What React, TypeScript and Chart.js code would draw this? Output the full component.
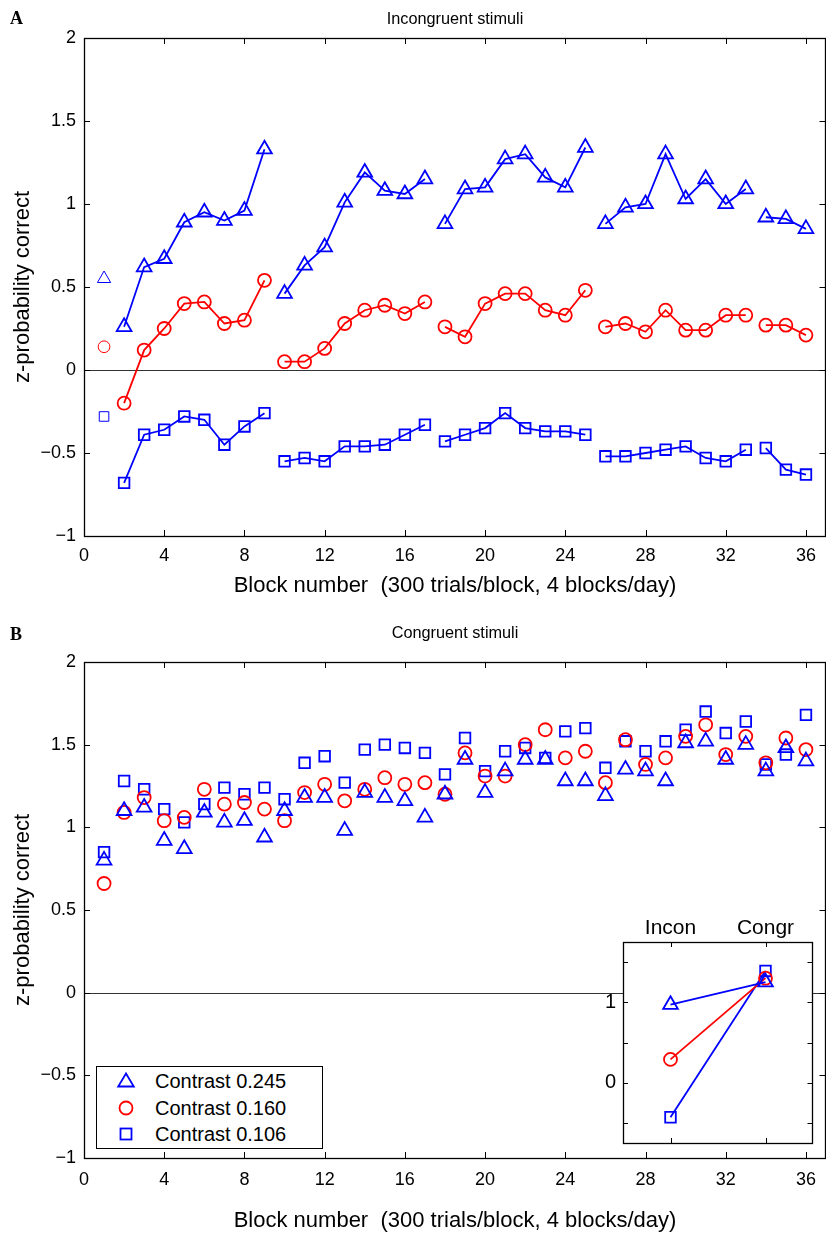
import React, { useEffect, useRef } from 'react';
import { Chart, registerables } from 'chart.js';

Chart.register(...registerables);

const FONT = "'Liberation Sans', Arial, Helvetica, sans-serif";
Chart.defaults.font.family = FONT;
Chart.defaults.color = '#000';

// ---------------- data ----------------
const blocks = [1, 2, 3, 4, 5, 6, 7, 8, 9, 10, 11, 12, 13, 14, 15, 16, 17, 18, 19, 20, 21, 22, 23, 24, 25, 26, 27, 28, 29, 30, 31, 32, 33, 34, 35, 36];
const sessionBreaksAfter = [1, 9, 17, 25, 33];
const xTicks = [0, 4, 8, 12, 16, 20, 24, 28, 32, 36];
const yTicks = [-1, -0.5, 0, 0.5, 1, 1.5, 2];

const seriesNames = ['Contrast 0.245', 'Contrast 0.160', 'Contrast 0.106'];

// Panel A: incongruent stimuli
const incongC245 = [0.55, 0.26, 0.62, 0.67, 0.89, 0.95, 0.90, 0.96, 1.33, 0.46, 0.63, 0.74, 1.01, 1.19, 1.08, 1.06, 1.15, 0.88, 1.09, 1.10, 1.27, 1.30, 1.16, 1.10, 1.34, 0.88, 0.98, 1.00, 1.30, 1.03, 1.15, 1.00, 1.09, 0.92, 0.91, 0.85];
const incongC160 = [0.14, -0.20, 0.12, 0.25, 0.40, 0.41, 0.28, 0.30, 0.54, 0.05, 0.05, 0.13, 0.28, 0.36, 0.39, 0.34, 0.41, 0.26, 0.20, 0.40, 0.46, 0.46, 0.36, 0.33, 0.48, 0.26, 0.28, 0.23, 0.36, 0.24, 0.24, 0.33, 0.33, 0.27, 0.27, 0.21];
const incongC106 = [-0.28, -0.68, -0.39, -0.36, -0.28, -0.30, -0.45, -0.34, -0.26, -0.55, -0.53, -0.55, -0.46, -0.46, -0.45, -0.39, -0.33, -0.43, -0.39, -0.35, -0.26, -0.35, -0.37, -0.37, -0.39, -0.52, -0.52, -0.50, -0.48, -0.46, -0.53, -0.55, -0.48, -0.47, -0.60, -0.63];

// Panel B: congruent stimuli
const congC245 = [0.80, 1.10, 1.12, 0.92, 0.87, 1.09, 1.03, 1.04, 0.94, 1.10, 1.18, 1.18, 0.98, 1.21, 1.18, 1.16, 1.06, 1.20, 1.41, 1.21, 1.34, 1.41, 1.41, 1.28, 1.28, 1.19, 1.35, 1.34, 1.28, 1.51, 1.52, 1.41, 1.50, 1.34, 1.48, 1.40];
const congC160 = [0.66, 1.09, 1.18, 1.04, 1.06, 1.23, 1.14, 1.15, 1.11, 1.04, 1.21, 1.26, 1.16, 1.23, 1.30, 1.26, 1.27, 1.20, 1.45, 1.31, 1.31, 1.50, 1.59, 1.42, 1.46, 1.27, 1.53, 1.38, 1.42, 1.55, 1.62, 1.44, 1.55, 1.39, 1.54, 1.47];
const congC106 = [0.85, 1.28, 1.23, 1.11, 1.03, 1.14, 1.24, 1.20, 1.24, 1.17, 1.39, 1.43, 1.27, 1.47, 1.50, 1.48, 1.45, 1.32, 1.54, 1.34, 1.46, 1.48, 1.42, 1.58, 1.60, 1.36, 1.52, 1.46, 1.52, 1.59, 1.70, 1.57, 1.64, 1.38, 1.44, 1.68];

// Inset: means
const insetCategories = ['Incon', 'Congr'];
const insetC245 = [0.97, 1.25];
const insetC160 = [0.29, 1.30];
const insetC106 = [-0.43, 1.39];
const insetYTicks = [-0.5, 0, 0.5, 1, 1.5];
const insetYLabelled = [0, 1];

// ---------------- styles ----------------
const BLUE = '#0000ff';
const RED = '#ff0000';
const CLEAR = 'rgba(0,0,0,0)';
const seriesColors = [BLUE, RED, BLUE];
const seriesStyles = ['triangle', 'circle', 'rect'];
const seriesRadius = [8.5, 6.5, 7.5];

const framePlugin = {
  id: 'frame',
  beforeDatasetsDraw(chart: any, _args: any, opts: any) {
    const { ctx, chartArea: a } = chart;
    ctx.save();
    if (opts.fill) {
      ctx.fillStyle = opts.fill;
      ctx.fillRect(a.left, a.top, a.right - a.left, a.bottom - a.top);
    }
    if (opts.zeroLine) {
      const y = Math.round(chart.scales.y.getPixelForValue(0)) + 0.5;
      ctx.strokeStyle = '#333';
      ctx.lineWidth = 1;
      ctx.beginPath();
      ctx.moveTo(a.left, y);
      ctx.lineTo(a.right, y);
      ctx.stroke();
    }
    ctx.restore();
  },
  afterDatasetsDraw(chart: any, _args: any, opts: any) {
    const { ctx, chartArea: a } = chart;
    const len = opts.tickLen || 6;
    const right = Math.round(a.right) - 0.5;
    ctx.save();
    ctx.strokeStyle = '#000';
    ctx.lineWidth = 1;
    ctx.beginPath();
    const xs = chart.scales.x;
    xs.ticks.forEach((_t: any, i: number) => {
      const px = Math.round(xs.getPixelForTick(i)) + 0.5;
      ctx.moveTo(px, a.top);
      ctx.lineTo(px, a.top + len);
      ctx.moveTo(px, a.bottom);
      ctx.lineTo(px, a.bottom - len);
    });
    const ys = chart.scales.y;
    ys.ticks.forEach((_t: any, i: number) => {
      const py = Math.round(ys.getPixelForTick(i)) + 0.5;
      ctx.moveTo(a.left, py);
      ctx.lineTo(a.left + len, py);
      ctx.moveTo(right, py);
      ctx.lineTo(right - len, py);
    });
    ctx.stroke();
    ctx.lineWidth = 1.3;
    const l = Math.round(a.left) + 0.5;
    const t = Math.round(a.top) + 0.5;
    ctx.strokeRect(l, t, right - l, Math.round(a.bottom - a.top));
    ctx.restore();
  },
};

const noPad = (s: any) => {
  s.paddingLeft = 0;
  s.paddingRight = 0;
  s.paddingTop = 0;
  s.paddingBottom = 0;
};

function blockSeries(values: number[], k: number, connected: boolean) {
  const color = seriesColors[k];
  const r = seriesRadius[k];
  return {
    label: seriesNames[k],
    data: blocks.map((b, i) => ({ x: b, y: values[i] })),
    borderColor: color,
    borderWidth: 1.8,
    showLine: connected,
    pointStyle: seriesStyles[k],
    pointRadius: (c: any) => (connected && c.dataIndex === 0 ? r * 0.9 : r),
    pointBorderWidth: (c: any) => (connected && c.dataIndex === 0 ? 1 : 1.8),
    pointBorderColor: color,
    pointBackgroundColor: CLEAR,
    pointHoverRadius: r,
    fill: false,
    tension: 0,
    segment: {
      borderColor: (c: any) => (sessionBreaksAfter.includes(c.p0.parsed.x) ? CLEAR : color),
    },
  };
}

function mainConfig(p: {
  title: string;
  titlePadTop: number;
  titlePadBottom: number;
  xAxisHeight: number;
  xTickPad: number;
  xTitlePadBottom: number;
  datasets: any[];
}) {
  return {
    type: 'line',
    data: { datasets: p.datasets },
    plugins: [framePlugin],
    options: {
      responsive: false,
      animation: false,
      devicePixelRatio: 1,
      events: [],
      layout: { autoPadding: false, padding: { left: 0, right: 0, top: 0, bottom: 0 } },
      plugins: {
        legend: { display: false },
        tooltip: { enabled: false },
        title: {
          display: true,
          fullSize: false,
          text: p.title,
          color: '#000',
          font: { size: 16.3, weight: 'normal', family: FONT, lineHeight: 1.2 },
          padding: { top: p.titlePadTop, bottom: p.titlePadBottom },
        },
        frame: { zeroLine: true, tickLen: 6 },
      },
      scales: {
        x: {
          type: 'linear',
          min: 0,
          max: 37,
          afterBuildTicks: (s: any) => {
            s.ticks = xTicks.map((v) => ({ value: v }));
          },
          afterFit: (s: any) => {
            s.height = p.xAxisHeight;
            noPad(s);
          },
          grid: { display: false, drawTicks: false },
          border: { display: false },
          ticks: {
            color: '#000',
            font: { size: 18, family: FONT, lineHeight: 1.2 },
            padding: p.xTickPad,
            maxRotation: 0,
            autoSkip: false,
            callback: (v: any) => String(v),
          },
          title: {
            display: true,
            text: 'Block number  (300 trials/block, 4 blocks/day)',
            color: '#000',
            font: { size: 22, family: FONT, lineHeight: 1 },
            padding: { top: 0, bottom: p.xTitlePadBottom },
          },
        },
        y: {
          type: 'linear',
          min: -1,
          max: 2,
          afterBuildTicks: (s: any) => {
            s.ticks = yTicks.map((v) => ({ value: v }));
          },
          afterFit: (s: any) => {
            s.width = 84;
            noPad(s);
          },
          grid: { display: false, drawTicks: false },
          border: { display: false },
          ticks: {
            color: '#000',
            font: { size: 18, family: FONT },
            padding: 8,
            autoSkip: false,
            callback: (v: any) => (v < 0 ? '\u2212' + Math.abs(v) : String(v)),
          },
          title: {
            display: true,
            text: 'z-probability correct',
            color: '#000',
            font: { size: 22, family: FONT, lineHeight: 1 },
            padding: { top: 12, bottom: 0 },
          },
        },
      },
    },
  };
}

function insetSeries(values: number[], k: number) {
  const color = seriesColors[k];
  return {
    label: seriesNames[k],
    data: values,
    borderColor: color,
    borderWidth: 1.8,
    pointStyle: seriesStyles[k],
    pointRadius: seriesRadius[k],
    pointBorderWidth: 1.8,
    pointBorderColor: color,
    pointBackgroundColor: CLEAR,
    fill: false,
    tension: 0,
  };
}

function insetConfig() {
  return {
    type: 'line',
    data: {
      labels: insetCategories,
      datasets: [insetSeries(insetC245, 0), insetSeries(insetC160, 1), insetSeries(insetC106, 2)],
    },
    plugins: [framePlugin],
    options: {
      responsive: false,
      animation: false,
      devicePixelRatio: 1,
      events: [],
      layout: { autoPadding: false, padding: { left: 0, right: 13, top: 0, bottom: 7 } },
      plugins: {
        legend: { display: false },
        tooltip: { enabled: false },
        title: { display: false },
        frame: { fill: '#ffffff', tickLen: 5 },
      },
      scales: {
        x: {
          type: 'category',
          position: 'top',
          offset: true,
          afterFit: (s: any) => {
            s.height = 42;
            noPad(s);
          },
          grid: { display: false, drawTicks: false, offset: true },
          border: { display: false },
          ticks: { color: '#000', font: { size: 21, family: FONT, lineHeight: 1.2 }, padding: 1.5, maxRotation: 0, autoSkip: false },
        },
        y: {
          type: 'linear',
          min: -0.75,
          max: 1.75,
          afterBuildTicks: (s: any) => {
            s.ticks = insetYTicks.map((v) => ({ value: v }));
          },
          afterFit: (s: any) => {
            s.width = 27;
            noPad(s);
          },
          grid: { display: false, drawTicks: false },
          border: { display: false },
          ticks: {
            color: '#000',
            font: { size: 20, family: FONT },
            padding: 7,
            autoSkip: false,
            callback: (v: any) => (insetYLabelled.includes(v) ? String(v) : ''),
          },
        },
      },
    },
  };
}

function ChartBox(props: { config: () => any; left: number; top: number; width: number; height: number }) {
  const ref = useRef<HTMLCanvasElement>(null);
  useEffect(() => {
    const chart = new Chart(ref.current as HTMLCanvasElement, props.config() as any);
    return () => chart.destroy();
  }, []);
  return (
    <div style={{ position: 'absolute', left: props.left, top: props.top, width: props.width, height: props.height }}>
      <canvas ref={ref} width={props.width} height={props.height} style={{ display: 'block' }} />
    </div>
  );
}

function Marker({ k }: { k: number }) {
  const c = seriesColors[k];
  const s = seriesStyles[k];
  return (
    <svg width={22} height={20} style={{ display: 'block' }}>
      {s === 'triangle' && <polygon points="11,2.5 18.8,15.5 3.2,15.5" fill="none" stroke={c} strokeWidth={1.8} />}
      {s === 'circle' && <circle cx={11} cy={10} r={6.5} fill="none" stroke={c} strokeWidth={1.8} />}
      {s === 'rect' && <rect x={5.5} y={4.5} width={11} height={11} fill="none" stroke={c} strokeWidth={1.8} />}
    </svg>
  );
}

export default function App() {
  const panelA = () =>
    mainConfig({
      title: 'Incongruent stimuli',
      titlePadTop: 10.2,
      titlePadBottom: 8.2,
      xAxisHeight: 74,
      xTickPad: 9.2,
      xTitlePadBottom: 13,
      datasets: [blockSeries(incongC245, 0, true), blockSeries(incongC160, 1, true), blockSeries(incongC106, 2, true)],
    });
  const panelB = () =>
    mainConfig({
      title: 'Congruent stimuli',
      titlePadTop: 7.2,
      titlePadBottom: 18.2,
      xAxisHeight: 75,
      xTickPad: 11.2,
      xTitlePadBottom: 1,
      datasets: [blockSeries(congC245, 0, false), blockSeries(congC160, 1, false), blockSeries(congC106, 2, false)],
    });

  const letterStyle: React.CSSProperties = {
    position: 'absolute',
    left: 10,
    fontFamily: "'Liberation Serif', 'DejaVu Serif', serif",
    fontWeight: 'bold',
    fontSize: 18,
    lineHeight: '20px',
  };

  return (
    <div style={{ position: 'absolute', left: 0, top: 0, width: 826, height: 1233, background: '#fff', overflow: 'hidden' }}>
      <ChartBox config={panelA} left={0} top={0} width={826} height={610} />
      <ChartBox config={panelB} left={0} top={617} width={826} height={616} />
      <ChartBox config={insetConfig} left={596} top={900} width={230} height={250} />
      <div style={{ ...letterStyle, top: 8 }}>A</div>
      <div style={{ ...letterStyle, top: 624 }}>B</div>
      <div
        style={{
          position: 'absolute',
          left: 96,
          top: 1066,
          width: 225,
          height: 81,
          border: '1px solid #000',
          background: '#fff',
          fontFamily: FONT,
          fontSize: 20,
        }}
      >
        {seriesNames.map((name, k) => (
          <div key={name} style={{ position: 'absolute', left: 18, top: 4 + k * 26.5, height: 20, display: 'flex', alignItems: 'center' }}>
            <Marker k={k} />
            <span style={{ marginLeft: 18, lineHeight: '20px' }}>{name}</span>
          </div>
        ))}
      </div>
    </div>
  );
}
